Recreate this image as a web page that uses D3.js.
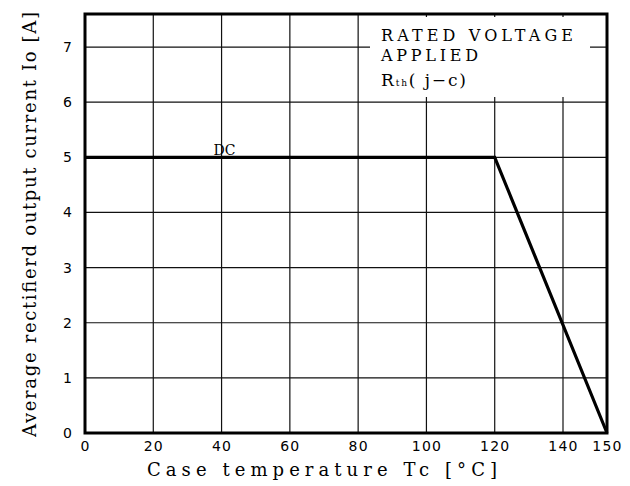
<!DOCTYPE html>
<html><head><meta charset="utf-8">
<script src="https://cdn.jsdelivr.net/npm/d3@7"></script>
<style>body{margin:0;background:#fff}svg{display:block}</style>
</head><body>
<svg id="c" width="630" height="486"></svg>
<script>
// Data
const temps = [0, 120, 150];          // Case temperature Tc [°C]
const currents = [5, 5, 0];           // Io [A]
const xTicks = [0, 20, 40, 60, 80, 100, 120, 140, 150];
const xGrid = [20, 40, 60, 80, 100, 120, 140];
const yTicks = [0, 1, 2, 3, 4, 5, 6, 7];
const yGrid = [1, 2, 3, 4, 5, 6, 7];
const seriesLabel = "DC";
const noteLines = ["RATED VOLTAGE", "APPLIED"];
const xTitle = "Case temperature Tc [°C]";
const yTitle = "Average rectifierd output current Io [A]";

const svg = d3.select("#c");
const L = 85, R = 607, T = 14, B = 433;
const x = d3.scaleLinear().domain([0, 140, 150]).range([L, 563, R]);
const y = d3.scaleLinear().domain([0, 7.6]).range([B, T]);

const serif = "'DejaVu Serif', 'Liberation Serif', serif";
const sans = "'DejaVu Sans', sans-serif";

// grid
svg.append("g").selectAll("line").data(xGrid).join("line")
  .attr("x1", d => x(d)).attr("x2", d => x(d)).attr("y1", T).attr("y2", B)
  .attr("stroke", "#111").attr("stroke-width", 1.2);
svg.append("g").selectAll("line").data(yGrid).join("line")
  .attr("x1", L).attr("x2", R).attr("y1", d => y(d)).attr("y2", d => y(d))
  .attr("stroke", "#111").attr("stroke-width", 1.2);

// annotation box (white background over grid)
svg.append("rect").attr("x", 370).attr("y", 17).attr("width", 220).attr("height", 80).attr("fill", "#fff");
const note = svg.append("g").attr("font-family", serif).attr("fill", "#000");
note.append("text").attr("x", 381).attr("y", 41).attr("font-size", 16)
  .attr("textLength", 192).attr("lengthAdjust", "spacing").text(noteLines[0]);
note.append("text").attr("x", 381).attr("y", 61).attr("font-size", 16)
  .attr("textLength", 97).attr("lengthAdjust", "spacing").text(noteLines[1]);
const r = note.append("text").attr("x", 381).attr("y", 86).attr("font-size", 17)
  .attr("textLength", 85).attr("lengthAdjust", "spacing");
r.append("tspan").text("R");
r.append("tspan").attr("font-size", 9).text("th");
r.append("tspan").text("( j−c)");

// series line
svg.append("path").datum(temps.map((t, i) => [t, currents[i]]))
  .attr("d", d3.line().x(d => x(d[0])).y(d => y(d[1])))
  .attr("fill", "none").attr("stroke", "#000").attr("stroke-width", 3.2)
  .attr("stroke-linejoin", "miter");

svg.append("text").attr("x", x(40) + 3).attr("y", y(5) - 2)
  .attr("font-family", serif).attr("font-size", 14).attr("text-anchor", "middle").text(seriesLabel);

// frame
svg.append("rect").attr("x", L).attr("y", T).attr("width", R - L).attr("height", B - T)
  .attr("fill", "none").attr("stroke", "#000").attr("stroke-width", 3);

// axes (labels only)
const xAxis = d3.axisBottom(x).tickValues(xTicks).tickSize(0).tickPadding(0).tickFormat(d3.format("d"));
const gx = svg.append("g").attr("transform", `translate(0,${B})`).call(xAxis);
gx.select(".domain").remove();
gx.selectAll("text").attr("font-family", sans).attr("font-size", 14)
  .attr("letter-spacing", 1.2).attr("fill", "#000").attr("dy", "1.3em");

const yAxis = d3.axisLeft(y).tickValues(yTicks).tickSize(0).tickPadding(13).tickFormat(d3.format("d"));
const gy = svg.append("g").attr("transform", `translate(${L},0)`).call(yAxis);
gy.select(".domain").remove();
gy.selectAll("text").attr("font-family", sans).attr("font-size", 14).attr("fill", "#000");

// titles
svg.append("text").attr("x", 147).attr("y", 476).attr("font-family", serif).attr("font-size", 18)
  .attr("textLength", 350).attr("lengthAdjust", "spacing").text(xTitle);
svg.append("text").attr("transform", "translate(36,437) rotate(-90)")
  .attr("font-family", serif).attr("font-size", 18)
  .attr("textLength", 425).attr("lengthAdjust", "spacing").text(yTitle);
</script>
</body></html>
